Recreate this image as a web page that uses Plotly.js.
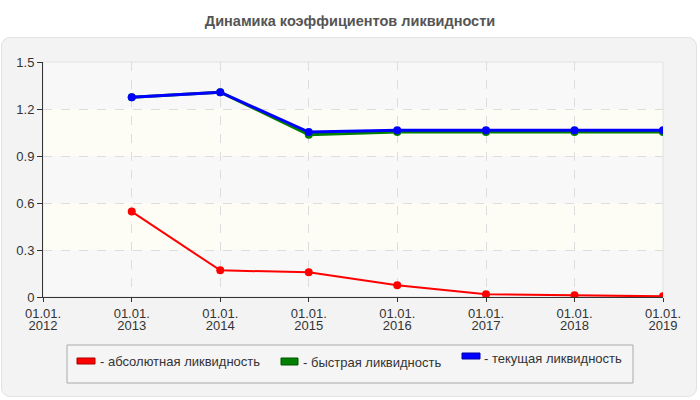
<!DOCTYPE html>
<html>
<head>
<meta charset="utf-8">
<script src="https://cdn.plot.ly/plotly-3.0.1.min.js"></script>
<style>
  html, body { margin: 0; padding: 0; background: #ffffff; }
  #wrap { position: relative; width: 700px; height: 400px; }
  #panel { position: absolute; left: 1px; top: 37px; width: 694px; height: 358px;
           background: #f3f3f3; border: 1px solid #e2e2e2; border-radius: 9px; }
  #chart { position: absolute; left: 0; top: 0; width: 700px; height: 400px; }
</style>
</head>
<body>
<div id="wrap">
  <div id="panel"></div>
  <div id="chart"></div>
</div>
<script>
// ---- data ----
const dates = ['2013-01-01', '2014-01-01', '2015-01-01', '2016-01-01', '2017-01-01', '2018-01-01', '2019-01-01'];
const absoluteLiq = [0.545, 0.170, 0.158, 0.075, 0.017, 0.011, 0.004];
const quickLiq    = [1.275, 1.307, 1.036, 1.053, 1.053, 1.053, 1.053];
const currentLiq  = [1.275, 1.307, 1.053, 1.064, 1.064, 1.064, 1.064];

const tickDates = ['2012-01-01', '2013-01-01', '2014-01-01', '2015-01-01', '2016-01-01', '2017-01-01', '2018-01-01', '2019-01-01'];
const tickDayMonth = ['01.01.', '01.01.', '01.01.', '01.01.', '01.01.', '01.01.', '01.01.', '01.01.'];
const tickYears = ['2012', '2013', '2014', '2015', '2016', '2017', '2018', '2019'];

const seriesNames = ['- абсолютная ликвидность', '- быстрая ликвидность', '- текущая ликвидность'];
const seriesColors = ['#ff0000', '#008000', '#0000ff'];
const titleText = 'Динамика коэффициентов ликвидности';

// ---- geometry helpers (pixel -> paper) ----
const W = 700, H = 400, ML = 43, MR = 37, MT = 62, MB = 103;
const PW = W - ML - MR, PH = H - MT - MB;
const px = x => (x - ML) / PW;
const py = y => (H - MB - y) / PH;

const FONT = '"Liberation Sans", Arial, sans-serif';

const traces = [
  { x: dates, y: absoluteLiq, name: seriesNames[0], type: 'scatter', mode: 'lines+markers',
    line: { color: seriesColors[0], width: 2 }, marker: { color: seriesColors[0], size: 8 }, showlegend: false },
  { x: dates, y: quickLiq, name: seriesNames[1], type: 'scatter', mode: 'lines+markers',
    line: { color: seriesColors[1], width: 3 }, marker: { color: seriesColors[1], size: 8 }, showlegend: false },
  { x: dates, y: currentLiq, name: seriesNames[2], type: 'scatter', mode: 'lines+markers', xaxis: 'x2',
    line: { color: seriesColors[2], width: 3 }, marker: { color: seriesColors[2], size: 8 }, showlegend: false }
];

const shapes = [];
// background bands
const bands = [[0, 0.3, '#f8f8f8'], [0.3, 0.6, '#fdfdf5'], [0.6, 0.9, '#f8f8f8'], [0.9, 1.2, '#fdfdf5'], [1.2, 1.5, '#f8f8f8']];
bands.forEach(b => shapes.push({ type: 'rect', xref: 'x domain', yref: 'y', x0: 0, x1: 1, y0: b[0], y1: b[1],
  fillcolor: b[2], line: { width: 0 }, layer: 'below' }));
// plot frame (light)
shapes.push({ type: 'rect', xref: 'x domain', yref: 'y domain', x0: 0, x1: 1, y0: 0, y1: 1,
  line: { color: '#e2e2e2', width: 1 }, fillcolor: 'rgba(0,0,0,0)', layer: 'below' });
// legend box
shapes.push({ type: 'rect', xref: 'paper', yref: 'paper', x0: px(67), x1: px(633), y0: py(345), y1: py(383),
  line: { color: '#aaaaaa', width: 1 }, fillcolor: '#f5f5f5', layer: 'below' });
// legend swatches
const sw = [[77, 95, 358, 364], [281, 298, 358, 365], [462, 480, 353, 359]];
const dark = ['#aa0000', '#005500', '#0000aa'];
sw.forEach((s, i) => shapes.push({ type: 'rect', xref: 'paper', yref: 'paper', x0: px(s[0]), x1: px(s[1]),
  y0: py(s[2]), y1: py(s[3]), fillcolor: seriesColors[i], line: { color: dark[i], width: 1 } }));

const legTextPos = [[98, 361.5], [301, 362], [482, 358.5]];
const annotations = seriesNames.map((n, i) => ({
  text: n, xref: 'paper', yref: 'paper', x: px(legTextPos[i][0]), y: py(legTextPos[i][1]),
  xanchor: 'left', yanchor: 'middle', showarrow: false, font: { family: FONT, size: 13, color: '#333' }
}));

const layout = {
  width: W, height: H,
  margin: { l: ML, r: MR, t: MT, b: MB, pad: 0 },
  paper_bgcolor: 'rgba(0,0,0,0)',
  plot_bgcolor: '#ffffff',
  showlegend: false,
  title: { text: '<b>' + titleText + '</b>', x: 0.5, xref: 'container', y: 1 - 21 / H, yref: 'container',
    yanchor: 'middle', font: { family: FONT, size: 14.5, color: '#555555' } },
  xaxis: {
    type: 'date', range: ['2012-01-01', '2019-01-01'],
    tickmode: 'array', tickvals: tickDates, ticktext: tickDayMonth,
    ticks: 'outside', ticklen: 4, tickcolor: '#333', tickwidth: 1,
    showline: true, linecolor: '#333', linewidth: 1,
    showgrid: true, gridcolor: '#dddddd', griddash: 'dash', gridwidth: 1,
    zeroline: false, tickfont: { family: FONT, size: 13, color: '#333' }, fixedrange: true
  },
  xaxis2: {
    type: 'date', range: ['2012-01-01', '2019-01-01'], overlaying: 'x', anchor: 'y', side: 'bottom',
    tickmode: 'array', tickvals: tickDates, ticktext: tickYears,
    ticks: '', showline: false, showgrid: false, zeroline: false,
    ticklabelstandoff: 19,
    tickfont: { family: FONT, size: 13, color: '#333' }, fixedrange: true
  },
  yaxis: {
    range: [0, 1.5], tickmode: 'linear', tick0: 0, dtick: 0.3,
    ticks: 'outside', ticklen: 5, tickcolor: '#333', tickwidth: 1,
    showline: true, linecolor: '#333', linewidth: 1,
    showgrid: true, gridcolor: '#dddddd', griddash: 'dash', gridwidth: 1,
    zeroline: false, tickfont: { family: FONT, size: 13, color: '#333' }, fixedrange: true
  },
  shapes: shapes,
  annotations: annotations
};

Plotly.newPlot('chart', traces, layout, { displayModeBar: false, staticPlot: true });
</script>
</body>
</html>
